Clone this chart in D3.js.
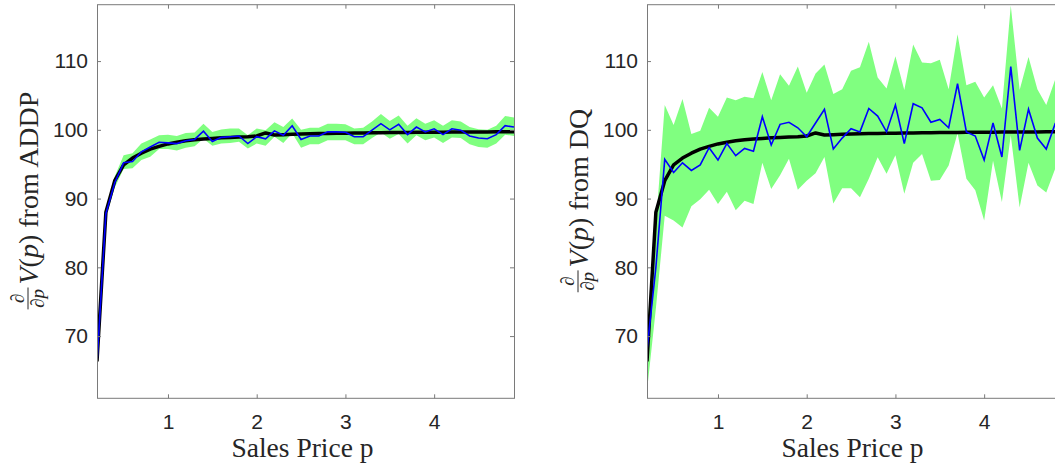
<!DOCTYPE html>
<html>
<head>
<meta charset="utf-8">
<script src="https://cdn.jsdelivr.net/npm/d3@7"></script>
<style>
body { margin: 0; background: #fff; }
</style>
</head>
<body>
<svg id="chart" width="1055" height="466"></svg>
<script>
// price grid (x values)
const prices = [0.2, 0.3, 0.4, 0.5, 0.6, 0.7, 0.8, 0.9, 1.0, 1.1, 1.2, 1.3, 1.4, 1.5, 1.6, 1.7,
    1.8, 1.9, 2.0, 2.1, 2.2, 2.3, 2.4, 2.5, 2.6, 2.7, 2.8, 2.9, 3.0, 3.1, 3.2, 3.3,
    3.4, 3.5, 3.6, 3.7, 3.8, 3.9, 4.0, 4.1, 4.2, 4.3, 4.4, 4.5, 4.6, 4.7, 4.8, 4.9];

// true derivative (black curve, same in both panels)
const trueV = [66.3, 88.0, 92.6, 94.9, 95.9, 96.6, 97.2, 97.6, 97.95, 98.2, 98.4, 98.55, 98.65, 98.75, 98.85, 98.9,
    98.95, 99.0, 99.1, 99.55, 99.25, 99.3, 99.35, 99.4, 99.42, 99.45, 99.48, 99.5, 99.52, 99.54, 99.55, 99.57,
    99.58, 99.6, 99.61, 99.62, 99.63, 99.64, 99.65, 99.66, 99.67, 99.68, 99.69, 99.7, 99.7, 99.71, 99.72, 99.72];

// ADDP estimate: mean and band
const addpMean = [66.1, 87.8, 92.3, 95.2, 95.4, 96.8, 97.5, 98.2, 98.1, 98.0, 98.4, 98.6, 99.8, 98.3, 98.9, 99.0,
    99.1, 98.0, 99.0, 98.7, 99.85, 99.2, 100.6, 98.6, 99.1, 99.1, 99.7, 99.7, 99.65, 99.0, 99.0, 99.95,
    100.9, 100.0, 100.8, 99.3, 100.4, 99.7, 100.15, 99.3, 100.15, 99.95, 99.1, 98.8, 98.7, 99.3, 100.6, 100.4];
const addpHi = [66.5, 88.4, 93.2, 96.3, 96.6, 98.0, 98.6, 99.2, 99.3, 99.1, 99.55, 99.6, 100.9, 99.7, 100.05, 100.2,
    100.2, 99.2, 100.2, 99.95, 101.1, 100.4, 101.65, 100.0, 100.3, 100.3, 100.9, 100.9, 100.8, 100.2, 100.3, 101.2,
    102.3, 101.3, 102.1, 100.6, 101.7, 100.9, 101.4, 100.6, 101.4, 101.2, 100.4, 100.1, 100.0, 100.6, 102.0, 101.8];
const addpLo = [65.7, 87.3, 91.6, 94.3, 94.4, 95.6, 96.1, 97.2, 97.2, 97.0, 97.4, 97.6, 98.7, 97.7, 98.0, 98.1,
    98.25, 97.3, 98.0, 97.7, 99.0, 98.1, 99.5, 97.4, 97.9, 97.9, 98.5, 98.5, 98.5, 97.9, 97.9, 98.8,
    99.6, 98.7, 99.4, 98.0, 99.2, 98.5, 98.9, 98.1, 98.9, 98.8, 97.9, 97.5, 97.4, 98.0, 99.3, 99.1];

// DQ estimate: mean and band
const dqMean = [68.0, 80.0, 95.7, 93.8, 95.2, 94.1, 94.9, 97.4, 95.6, 98.0, 96.25, 97.3, 96.9, 101.9, 97.8, 100.8,
    101.1, 100.3, 99.0, 101.0, 103.0, 97.2, 98.8, 100.15, 99.7, 103.1, 102.0, 99.7, 103.6, 98.0, 103.8, 103.2,
    101.1, 101.5, 100.3, 106.7, 99.7, 99.1, 95.6, 101.0, 96.05, 109.2, 97.0, 103.0, 98.8, 97.2, 100.9, 100.5];
const dqHi = [71.0, 86.0, 103.6, 100.7, 104.5, 99.4, 99.85, 103.2, 101.9, 104.7, 104.3, 104.8, 104.6, 108.4, 104.3, 108.1,
    106.4, 109.2, 105.4, 108.2, 109.5, 105.2, 105.9, 108.6, 109.1, 112.8, 107.6, 106.0, 110.7, 105.8, 112.4, 109.8,
    109.7, 110.2, 105.9, 113.9, 106.5, 107.0, 104.7, 106.5, 103.1, 118.1, 105.8, 110.6, 105.9, 103.6, 107.3, 106.0];
const dqLo = [62.0, 74.0, 87.5, 86.8, 85.8, 88.9, 89.9, 91.3, 89.2, 91.0, 88.3, 89.7, 89.2, 95.2, 91.4, 93.4,
    95.8, 91.3, 92.6, 93.7, 96.05, 89.3, 91.5, 91.5, 90.2, 92.9, 96.0, 93.6, 96.3, 90.7, 95.2, 96.5,
    92.6, 92.7, 94.8, 99.5, 92.9, 91.2, 86.8, 95.5, 89.5, 99.2, 88.7, 95.2, 91.9, 90.9, 94.3, 93.0];

const xTicks = [1, 2, 3, 4];
const yTicks = [70, 80, 90, 100, 110];

const svg = d3.select("#chart");

const panelW = 417;
const plotTop = 4.7, plotBottom = 398.3;

const y = d3.scaleLinear().domain([60.95, 118.2]).range([plotBottom, plotTop]);

const drawPanel = (left, mean, hi, lo, method, id) => {
    const x = d3.scaleLinear().domain([0.2, 4.9]).range([left, left + panelW]);

    svg.append("clipPath").attr("id", "clip" + id)
        .append("rect")
        .attr("x", left).attr("y", plotTop)
        .attr("width", panelW).attr("height", plotBottom - plotTop);

    const plot = svg.append("g").attr("clip-path", "url(#clip" + id + ")");

    const area = d3.area()
        .x((d, i) => x(prices[i]))
        .y0((d, i) => y(lo[i]))
        .y1((d, i) => y(hi[i]));

    plot.append("path")
        .datum(mean)
        .attr("d", area)
        .attr("fill", "#80ff80");

    const line = d3.line()
        .x((d, i) => x(prices[i]))
        .y(d => y(d));

    plot.append("path")
        .datum(trueV)
        .attr("d", line)
        .attr("fill", "none")
        .attr("stroke", "#000")
        .attr("stroke-width", 3.5)
        .attr("stroke-linejoin", "round");

    plot.append("path")
        .datum(mean)
        .attr("d", line)
        .attr("fill", "none")
        .attr("stroke", "#0000ff")
        .attr("stroke-width", 1.6);

    // axes, ticks pointing inward
    const gx = svg.append("g")
        .attr("transform", `translate(0,${plotBottom})`)
        .call(d3.axisBottom(x).tickValues(xTicks).tickFormat(d3.format("d"))
            .tickSizeInner(-4).tickSizeOuter(0).tickPadding(16));
    const gy = svg.append("g")
        .attr("transform", `translate(${left},0)`)
        .call(d3.axisLeft(y).tickValues(yTicks).tickSizeInner(-4).tickSizeOuter(0).tickPadding(9));
    const gt = svg.append("g")
        .attr("transform", `translate(0,${plotTop})`)
        .call(d3.axisTop(x).tickValues(xTicks).tickSizeInner(-4).tickSizeOuter(0).tickFormat(""));
    const gr = svg.append("g")
        .attr("transform", `translate(${left + panelW},0)`)
        .call(d3.axisRight(y).tickValues(yTicks).tickSizeInner(-4).tickSizeOuter(0).tickFormat(""));

    [gx, gy, gt, gr].forEach(g => {
        g.select(".domain").remove();
        g.selectAll("line").attr("stroke", "#7a7a7a");
        g.selectAll("text")
            .attr("fill", "#262626")
            .style("font-family", "'Liberation Sans', Arial, sans-serif")
            .style("font-size", "21px");
    });

    svg.append("rect")
        .attr("x", left + 0.5).attr("y", plotTop)
        .attr("width", panelW).attr("height", plotBottom - plotTop)
        .attr("fill", "none")
        .attr("stroke", "#7a7a7a")
        .attr("stroke-width", 1);

    // x label
    svg.append("text")
        .attr("x", left + panelW / 2 - 3)
        .attr("y", 457)
        .attr("text-anchor", "middle")
        .attr("fill", "#262626")
        .style("font-family", "'Liberation Serif', 'Times New Roman', serif")
        .style("font-size", "27.5px")
        .text("Sales Price p");

    // y label: d/dp V(p) from ...
    const lab = svg.append("g")
        .attr("transform", `translate(${left - 59},${(plotTop + plotBottom) / 2 - 1}) rotate(-90)`)
        .attr("fill", "#262626")
        .style("font-family", "'Liberation Serif', 'Times New Roman', serif");

    const inner = lab.append("g");
    const num = inner.append("text")
        .attr("y", -14)
        .attr("text-anchor", "middle")
        .style("font-size", "19px")
        .style("font-style", "italic")
        .text("∂");
    const den = inner.append("text")
        .attr("y", 6)
        .attr("text-anchor", "middle")
        .style("font-size", "19px");
    den.append("tspan").style("font-style", "italic").text("∂p");
    const fw = Math.max(num.node().getComputedTextLength(), den.node().getComputedTextLength()) + 3;
    num.attr("x", fw / 2);
    den.attr("x", fw / 2);
    inner.append("line")
        .attr("x1", 0).attr("x2", fw)
        .attr("y1", -10).attr("y2", -10)
        .attr("stroke", "#262626")
        .attr("stroke-width", 1);

    const main = inner.append("text")
        .attr("x", fw + 3)
        .attr("y", 0)
        .style("font-size", "28px");
    main.append("tspan").style("font-style", "italic").text("V");
    main.append("tspan").text("(");
    main.append("tspan").style("font-style", "italic").text("p");
    main.append("tspan").text(")\u00a0from " + method);

    const total = fw + 3 + main.node().getComputedTextLength();
    inner.attr("transform", `translate(${-total / 2},0)`);
};

drawPanel(97, addpMean, addpHi, addpLo, "ADDP", 0);
drawPanel(647, dqMean, dqHi, dqLo, "DQ", 1);
</script>
</body>
</html>
